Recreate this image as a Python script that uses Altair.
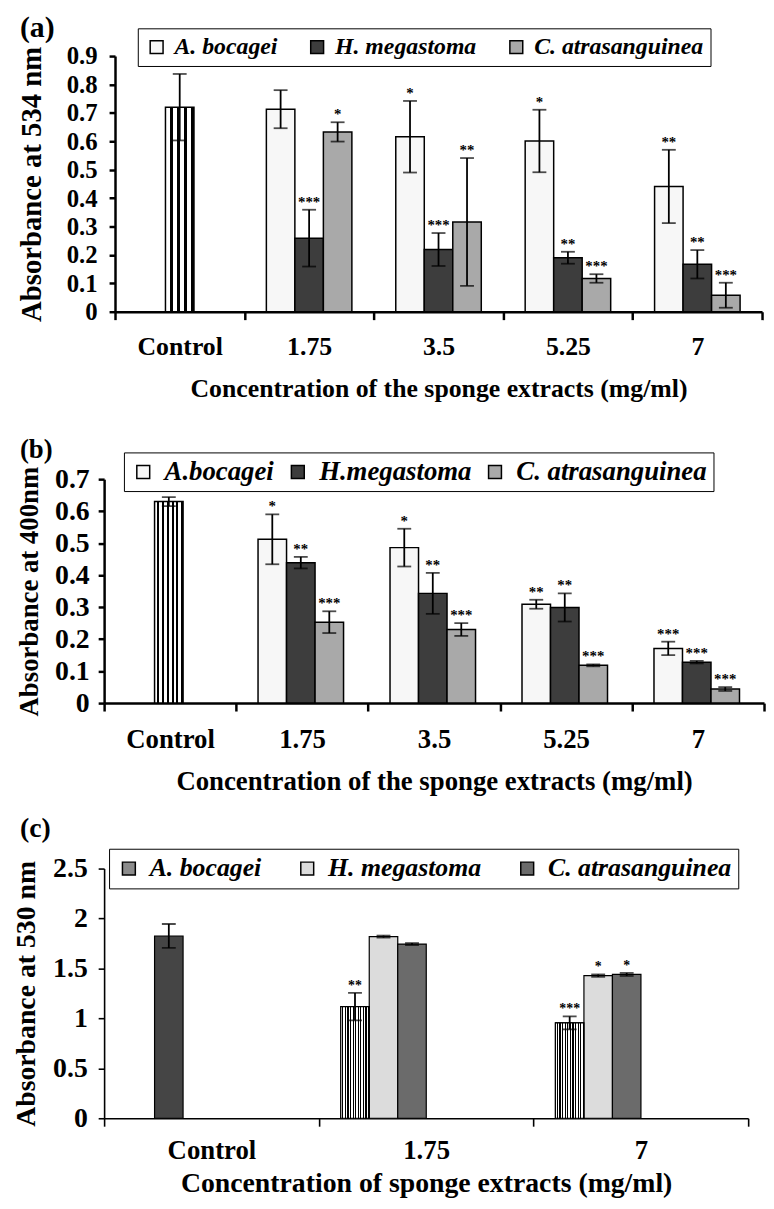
import altair as alt
import pandas as pd

F = "Liberation Serif"

# ---------------- Panel (a): absorbance at 534 nm ----------------
a_cats = ["Control", "1.75", "3.5", "5.25", "7"]
a_groups = ["1.75", "3.5", "5.25", "7"]
a_species = ["A. bocagei", "H. megastoma", "C. atrasanguinea"]
a_control = [0.720, 0.117]
a_mean = [[0.713, 0.616, 0.601, 0.441],
          [0.259, 0.219, 0.190, 0.167],
          [0.633, 0.316, 0.117, 0.058]]
a_err = [[0.067, 0.126, 0.110, 0.129],
         [0.100, 0.058, 0.021, 0.050],
         [0.034, 0.225, 0.015, 0.044]]
a_sig = [["", "*", "*", "**"],
         ["***", "***", "**", "**"],
         ["*", "**", "***", "***"]]
a_yticks = [0, 0.1, 0.2, 0.3, 0.4, 0.5, 0.6, 0.7, 0.8, 0.9]

# ---------------- Panel (b): absorbance at 400 nm ----------------
b_cats = ["Control", "1.75", "3.5", "5.25", "7"]
b_groups = ["1.75", "3.5", "5.25", "7"]
b_species = ["A.bocagei", "H.megastoma", "C. atrasanguinea"]
b_control = [0.630, 0.014]
b_mean = [[0.512, 0.486, 0.309, 0.171],
          [0.439, 0.343, 0.299, 0.128],
          [0.253, 0.230, 0.118, 0.044]]
b_err = [[0.078, 0.059, 0.014, 0.021],
         [0.018, 0.064, 0.044, 0.004],
         [0.034, 0.020, 0.003, 0.006]]
b_sig = [["*", "*", "**", "***"],
         ["**", "**", "**", "***"],
         ["***", "***", "***", "***"]]
b_yticks = [0, 0.1, 0.2, 0.3, 0.4, 0.5, 0.6, 0.7]

# ---------------- Panel (c): absorbance at 530 nm ----------------
c_cats = ["Control", "1.75", "7"]
c_groups = ["1.75", "7"]
c_species = ["A. bocagei", "H. megastoma", "C. atrasanguinea"]
c_control = [1.825, 0.120]
c_mean = [[1.118, 0.955],
          [1.819, 1.428],
          [1.744, 1.440]]
c_err = [[0.137, 0.065],
         [0.010, 0.012],
         [0.010, 0.015]]
c_sig = [["**", "***"],
         ["", "*"],
         ["", "*"]]
c_yticks = [0, 0.5, 1, 1.5, 2, 2.5]


def build_df(groups, species, means, errs, sigs, control):
    cm, ce = control
    rows = [dict(conc="Control", species="Control", slot=1, mean=cm,
                 lo=cm - ce, hi=cm + ce, sig="")]
    for si, sp in enumerate(species):
        for gi, g in enumerate(groups):
            m, e = means[si][gi], errs[si][gi]
            rows.append(dict(conc=g, species=sp, slot=si, mean=m,
                             lo=m - e, hi=m + e, sig=sigs[si][gi]))
    return pd.DataFrame(rows)


def stripes(n, frac):
    stops = []
    for i in range(n):
        a = i / n
        b = (i + 1 - frac) / n
        c = (i + 1) / n
        stops += [{"offset": a, "color": "white"}, {"offset": b, "color": "white"},
                  {"offset": b, "color": "black"}, {"offset": c, "color": "black"}]
    return {"gradient": "linear", "x1": 0, "y1": 0, "x2": 1, "y2": 0, "stops": stops}


def panel(df, cfg):
    cats = cfg["cats"]
    shift = cfg.get("shift", 0)
    W = cfg["W"]
    xaxis = alt.Axis(labelAngle=0, tickBand="extent", domainColor="black",
                     domainWidth=cfg["dw"], tickColor="black", tickWidth=cfg["dw"],
                     tickSize=8, labelFont=F, labelFontWeight="bold",
                     labelFontSize=cfg["xlfs"], labelColor="black",
                     labelPadding=cfg["xlp"], titleFont=F, titleFontWeight="bold",
                     titleFontSize=cfg["xtfs"], titleColor="black",
                     titlePadding=cfg["xtp"], grid=False)
    yaxis = alt.Axis(values=cfg["yticks"], format="~g", domainColor="black",
                     domainWidth=cfg["dw"], tickColor="black", tickWidth=cfg["dw"],
                     tickSize=6, labelFont=F, labelFontWeight="bold",
                     labelFontSize=cfg["ylfs"], labelColor="black",
                     labelPadding=cfg["ylp"], labelFlush=False,
                     titleFont=F, titleFontWeight="bold", titleFontSize=cfg["ytfs"],
                     titleColor="black", titlePadding=cfg["ytp"], grid=False,
                     offset=-shift)
    if shift:
        xsc = alt.Scale(domain=cats, paddingInner=0, paddingOuter=0,
                        range=[shift, W])
    else:
        xsc = alt.Scale(domain=cats, paddingInner=0, paddingOuter=0)
    x = alt.X("conc:N", sort=cats, scale=xsc, axis=xaxis, title=cfg["xtitle"])
    xo = alt.XOffset("slot:N", scale=alt.Scale(domain=[0, 1, 2], paddingInner=0,
                                                paddingOuter=0.77))
    ysc = alt.Scale(domain=cfg["ydom"], nice=False, zero=True)

    def Y(f):
        return alt.Y(f + ":Q", scale=ysc, axis=yaxis, title=cfg["ytitle"])

    legend = alt.Legend(orient="none", legendX=cfg["lx"], legendY=cfg["ly"],
                        direction="horizontal", title=None, strokeColor="black",
                        fillColor="white", padding=cfg["lpad"], symbolType="square",
                        symbolSize=cfg["ssize"], symbolStrokeColor="black",
                        symbolStrokeWidth=1.5, labelFont=F,
                        labelFontSize=cfg["lfs"], labelFontStyle="italic",
                        labelFontWeight="bold", labelColor="black",
                        columnPadding=cfg["lcp"], labelOffset=cfg["loff"],
                        labelLimit=400)

    base = alt.Chart(df)
    bars = base.transform_filter("datum.species != 'Control'").mark_bar(
        stroke="black", strokeWidth=cfg["bsw"]).encode(
        x=x, xOffset=xo, y=Y("mean"),
        color=alt.Color("species:N", scale=alt.Scale(domain=cfg["species"],
                                                     range=cfg["colors"]),
                        legend=legend))
    ctrl = base.transform_filter("datum.species == 'Control'").mark_bar(
        stroke="black", strokeWidth=cfg["bsw"], fill=cfg["ctrl_fill"]).encode(
        x=x, xOffset=xo, y=Y("mean"))
    layers = [bars, ctrl]
    if cfg.get("stripe_species"):
        ov = base.transform_filter(
            "datum.species == '%s'" % cfg["stripe_species"]).mark_bar(
            stroke="black", strokeWidth=cfg["bsw"], fill=cfg["stripe_fill"]).encode(
            x=x, xOffset=xo, y=Y("mean"))
        layers.append(ov)
    rule = base.mark_rule(color="black", strokeWidth=1.8).encode(
        x=x, xOffset=xo, y=Y("lo"), y2="hi:Q")
    cap_hi = base.mark_tick(orient="horizontal", color="black", size=cfg["cap"],
                            thickness=1.8).encode(x=x, xOffset=xo, y=Y("hi"))
    cap_lo = base.mark_tick(orient="horizontal", color="black", size=cfg["cap"],
                            thickness=1.8).encode(x=x, xOffset=xo, y=Y("lo"))
    stars = base.mark_text(font=F, fontSize=cfg["sfs"], fontWeight="bold",
                           baseline="alphabetic", align="center", dy=-3,
                           fill="black").encode(x=x, xOffset=xo, y=Y("hi"),
                                                text="sig:N")
    lab = alt.Chart(pd.DataFrame({"t": [cfg["label"]]})).mark_text(
        font=F, fontSize=cfg["pfs"], fontWeight="bold", align="left",
        baseline="top", color="black").encode(
        text="t:N", x=alt.value(cfg["px"]), y=alt.value(cfg["py"]))
    layers += [rule, cap_lo, cap_hi, stars, lab]
    return alt.layer(*layers).properties(width=W, height=cfg["H"])


da = build_df(a_groups, a_species, a_mean, a_err, a_sig, a_control)
db = build_df(b_groups, b_species, b_mean, b_err, b_sig, b_control)
dc = build_df(c_groups, c_species, c_mean, c_err, c_sig, c_control)

pa = panel(da, dict(cats=a_cats, species=a_species, ydom=[0, 0.9], yticks=a_yticks,
                    W=664, shift=11, H=258, dw=2.5, xlfs=26, xlp=14, xtfs=26, xtp=17,
                    ylfs=25, ylp=12, ytfs=29, ytp=20,
                    xtitle="Concentration of the sponge extracts (mg/ml)",
                    ytitle="Absorbance at  534 nm",
                    lx=34, ly=-28, lpad=7, ssize=169, lfs=24, lcp=28, loff=6,
                    colors=["#f7f7f7", "#3d3d3d", "#a9a9a9"],
                    ctrl_fill=stripes(4, 0.38), bsw=1.5, cap=14, sfs=15,
                    label="(a)", pfs=30, px=-85, py=-43))
pb = panel(db, dict(cats=b_cats, species=b_species, ydom=[0, 0.7], yticks=b_yticks,
                    W=666, H=226, dw=2.5, xlfs=27, xlp=16, xtfs=27, xtp=16,
                    ylfs=28, ylp=9, ytfs=27, ytp=11,
                    xtitle="Concentration of the sponge extracts (mg/ml)",
                    ytitle="Absorbance at 400nm",
                    lx=20, ly=-27, lpad=6, ssize=169, lfs=27, lcp=10, loff=8,
                    colors=["#f7f7f7", "#3d3d3d", "#a9a9a9"],
                    ctrl_fill=stripes(6, 0.4), bsw=1.5, cap=14, sfs=15,
                    label="(b)", pfs=27, px=-85, py=-42))
pc = panel(dc, dict(cats=c_cats, species=c_species, ydom=[0, 2.5], yticks=c_yticks,
                    W=650, H=252, dw=1.6, xlfs=27, xlp=12, xtfs=28, xtp=6,
                    ylfs=28, ylp=11, ytfs=28, ytp=12,
                    xtitle="Concentration of sponge extracts (mg/ml)",
                    ytitle="Absorbance at 530 nm",
                    lx=5, ly=-20, lpad=7, ssize=169, lfs=26, lcp=33, loff=8,
                    colors=["#8c8c8c", "#dcdcdc", "#6b6b6b"],
                    ctrl_fill="#454545", stripe_species="A. bocagei",
                    stripe_fill=stripes(11, 0.45), bsw=1.2, cap=14, sfs=14,
                    label="(c)", pfs=28, px=-85, py=-54))

top = alt.concat(pa, pb, columns=1, spacing=35).properties(align="none").resolve_scale(
    color="independent").resolve_legend(color="independent")
chart = alt.concat(top, pc, columns=1, spacing=21).properties(
    align="none", padding={"left": 4, "top": 0, "right": 0, "bottom": 0}
).resolve_scale(color="independent").resolve_legend(
    color="independent").configure_view(stroke=None)

chart.save("out.html", embed_options={"renderer": "svg", "actions": False})
